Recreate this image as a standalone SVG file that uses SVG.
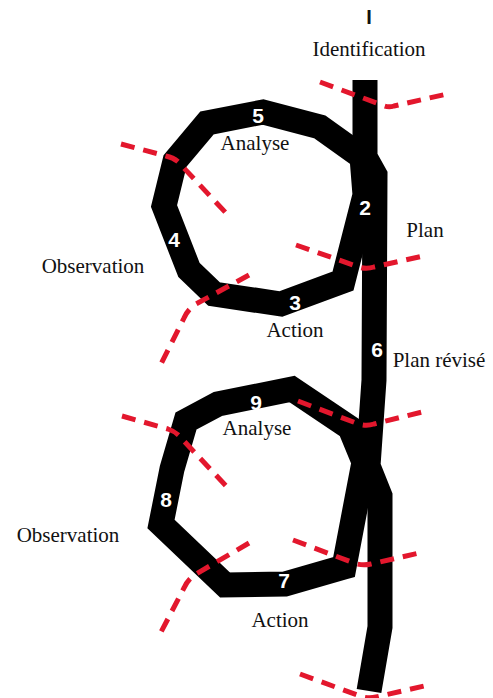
<svg xmlns="http://www.w3.org/2000/svg" width="493" height="698" viewBox="0 0 493 698">
<style>
.band{fill:none;stroke:#000;stroke-width:25;stroke-linejoin:miter;stroke-miterlimit:10}
.cut{fill:none;stroke:#e3172d;stroke-width:5;stroke-dasharray:14 9}
.lbl{font-family:"Liberation Serif",serif;font-size:21px;fill:#111;text-anchor:middle}
.num{font-family:"Liberation Sans",Arial,sans-serif;font-weight:bold;font-size:21px;fill:#fff;text-anchor:middle}
</style>
<rect width="493" height="698" fill="#fff"/>
<g id="connectors">
<path class="band" d="M365,80 L365,157 L375,175 L374,380 L368,466 L380,496 L380,627 L369,691"/>
<path class="band" d="M343,281 L281,304 L214,294 L189,270 L164,206 L175,161 L207,123 L263,112 L320,127 L362,157 L365,195 Z"/>
<path class="band" d="M344,567 L285,584 L225,585 L161,524 L172,469 L186,421 L218,404 L292,389 L350,428 L364,462 Z"/>
<path class="cut" d="M320,82 L382,105 Q388,108 394,106 L447,94"/>
<path class="cut" d="M121,144 L166,156 Q176,158 182,166 L226,213"/>
<path class="cut" d="M296,245 L356,266 Q365,270 374,267 L423,256"/>
<path class="cut" d="M249,275 L196,304 Q188,309 184,318 L160,366"/>
<path class="cut" d="M298,401 L356,423 Q365,427 374,424 L426,411"/>
<path class="cut" d="M122,416 L168,429 Q177,432 183,440 L227,487"/>
<path class="cut" d="M293,540 L354,563 Q362,566 371,564 L419,553"/>
<path class="cut" d="M249,543 L196,574 Q188,579 184,588 L160,634"/>
<path class="cut" d="M300,674 L360,696 Q368,699 376,697 L424,686"/>
</g>
<g id="identification">
<text x="369" y="24" font-family="Liberation Sans,Arial,sans-serif" font-weight="bold" font-size="20" text-anchor="middle" fill="#111">I</text>
<text class="lbl" x="369" y="56">Identification</text>
</g>
<g id="step2"><text class="num" x="365" y="215">2</text><text class="lbl" x="425" y="237">Plan</text></g>
<g id="step3"><text class="num" x="295" y="310">3</text><text class="lbl" x="295" y="337">Action</text></g>
<g id="step4"><text class="num" x="174" y="247">4</text><text class="lbl" x="93" y="273">Observation</text></g>
<g id="step5"><text class="num" x="258" y="123">5</text><text class="lbl" x="255" y="150">Analyse</text></g>
<g id="step6"><text class="num" x="377" y="357">6</text><text class="lbl" x="439" y="367">Plan révisé</text></g>
<g id="step7"><text class="num" x="284" y="588">7</text><text class="lbl" x="280" y="627">Action</text></g>
<g id="step8"><text class="num" x="166" y="507">8</text><text class="lbl" x="68" y="542">Observation</text></g>
<g id="step9"><text class="num" x="256" y="410">9</text><text class="lbl" x="257" y="435">Analyse</text></g>
</svg>
